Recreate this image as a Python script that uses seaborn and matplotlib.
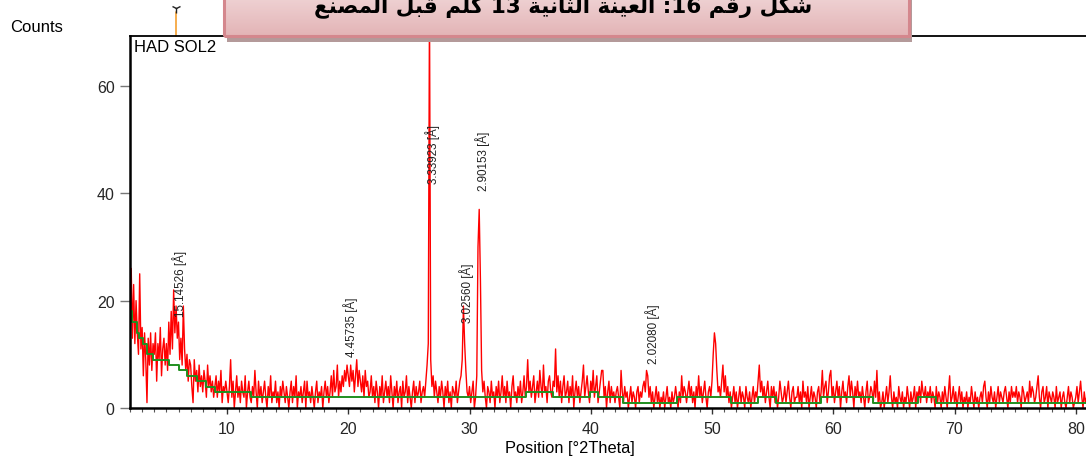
import numpy as np
import matplotlib
matplotlib.use("Agg")
import matplotlib.pyplot as plt
from matplotlib.ticker import MultipleLocator
from matplotlib.patches import Rectangle
from matplotlib.colors import LinearSegmentedColormap
import seaborn as sns

# Scan: 2Theta from 2.0 deg, 0.1 deg step
two_theta_start = 2.0
two_theta_step = 0.1

counts_02_10 = [
    14, 26, 13, 23, 12, 20, 14, 10, 25, 11,
    15, 6, 14, 9, 1, 13, 8, 14, 7, 12,
    10, 14, 5, 12, 9, 15, 6, 11, 13, 8,
    12, 7, 16, 10, 18, 11, 22, 14, 19, 13,
    16, 9, 13, 8, 19, 11, 7, 10, 5, 9,
    8, 4, 1, 9, 5, 7, 3, 8, 4, 6,
    3, 7, 5, 2, 8, 4, 6, 3, 5, 2,
    4, 6, 2, 5, 3, 7, 1, 4, 3, 5,
]
counts_10_20 = [
    3, 1, 4, 9, 2, 5, 0, 3, 6, 2,
    4, 1, 5, 3, 2, 6, 0, 3, 5, 2,
    1, 4, 2, 7, 3, 0, 5, 2, 4, 1,
    3, 5, 2, 0, 4, 2, 6, 1, 3, 2,
    5, 1, 3, 0, 4, 2, 5, 3, 1, 4,
    2, 0, 3, 5, 1, 4, 2, 6, 0, 3,
    2, 4, 1, 3, 5, 0, 5, 2, 3, 1,
    4, 2, 0, 3, 5, 1, 3, 2, 4, 0,
    3, 5, 2, 4, 1, 3, 6, 2, 7, 3,
    4, 8, 2, 5, 3, 6, 4, 7, 5, 8,
]
counts_20_30 = [
    6, 4, 8, 5, 7, 3, 6, 9, 4, 7,
    5, 3, 6, 2, 7, 4, 5, 2, 3, 6,
    2, 4, 1, 5, 3, 0, 4, 2, 6, 1,
    3, 5, 2, 4, 1, 6, 3, 0, 4, 2,
    5, 1, 3, 4, 0, 5, 2, 3, 6, 1,
    4, 2, 0, 3, 5, 1, 4, 2, 3, 5,
    1, 3, 4, 2, 5, 8, 12, 75, 9, 4,
    6, 2, 5, 3, 1, 4, 2, 5, 3, 0,
    4, 2, 5, 1, 3, 0, 4, 3, 2, 5,
    1, 3, 5, 6, 9, 19, 12, 7, 3, 2,
]
counts_30_40 = [
    4, 1, 3, 5, 0, 2, 6, 30, 37, 24,
    7, 3, 5, 2, 0, 4, 3, 1, 5, 2,
    3, 0, 4, 2, 5, 1, 3, 6, 2, 4,
    1, 5, 2, 3, 0, 4, 6, 2, 3, 1,
    4, 2, 5, 1, 3, 6, 2, 4, 9, 3,
    5, 2, 4, 6, 1, 3, 5, 2, 7, 4,
    2, 8, 3, 4, 1, 5, 6, 3, 2, 5,
    4, 11, 3, 6, 2, 5, 1, 4, 6, 2,
    3, 5, 1, 4, 2, 6, 0, 3, 5, 2,
    4, 1, 3, 5, 8, 2, 4, 6, 3, 1,
]
counts_40_50 = [
    5, 3, 7, 2, 4, 6, 1, 3, 5, 7,
    7, 2, 4, 0, 3, 5, 1, 4, 2, 3,
    1, 3, 4, 2, 0, 7, 3, 1, 4, 2,
    3, 0, 2, 4, 1, 3, 2, 0, 3, 4,
    1, 3, 2, 4, 5, 3, 7, 6, 2, 4,
    1, 3, 0, 2, 4, 1, 3, 0, 2, 1,
    3, 0, 2, 4, 1, 2, 0, 3, 1, 2,
    4, 2, 0, 3, 1, 6, 2, 4, 3, 1,
    3, 5, 2, 4, 1, 3, 0, 4, 2, 6,
    2, 4, 1, 3, 5, 2, 0, 3, 4, 2,
]
counts_50_60 = [
    5, 10, 14, 12, 7, 3, 4, 2, 5, 8,
    3, 6, 2, 4, 1, 3, 0, 2, 4, 1,
    3, 0, 2, 4, 1, 3, 2, 0, 4, 2,
    1, 3, 0, 2, 4, 1, 3, 2, 5, 8,
    3, 5, 2, 4, 1, 3, 5, 2, 0, 4,
    2, 4, 1, 3, 0, 2, 5, 3, 1, 2,
    4, 1, 3, 5, 2, 0, 3, 4, 1, 2,
    2, 4, 1, 3, 0, 5, 2, 3, 1, 4,
    0, 2, 4, 1, 3, 2, 0, 3, 4, 1,
    3, 7, 2, 4, 5, 1, 3, 6, 7, 2,
]
counts_60_70 = [
    4, 1, 3, 5, 2, 4, 0, 3, 5, 2,
    3, 1, 4, 6, 2, 5, 3, 0, 4, 2,
    5, 2, 3, 1, 4, 2, 0, 3, 5, 1,
    2, 4, 3, 1, 5, 2, 7, 1, 3, 0,
    1, 3, 0, 2, 4, 1, 3, 6, 2, 0,
    3, 1, 2, 0, 4, 2, 1, 3, 0, 2,
    1, 4, 2, 0, 3, 1, 2, 4, 0, 3,
    2, 4, 1, 5, 3, 2, 4, 1, 3, 2,
    4, 1, 3, 2, 0, 4, 1, 3, 2, 0,
    3, 1, 4, 2, 0, 3, 6, 1, 2, 4,
]
counts_70_82 = [
    1, 3, 0, 2, 4, 1, 3, 0, 2, 1,
    3, 0, 2, 1, 4, 2, 0, 3, 1, 2,
    0, 2, 3, 1, 4, 5, 2, 0, 3, 1,
    4, 2, 1, 3, 0, 2, 4, 1, 3, 2,
    1, 3, 4, 2, 0, 3, 1, 4, 2, 3,
    2, 4, 1, 3, 2, 0, 4, 3, 1, 2,
    3, 1, 5, 2, 4, 3, 1, 2, 4, 6,
    2, 0, 3, 4, 1, 2, 4, 0, 3, 2,
    1, 3, 2, 0, 4, 1, 2, 3, 0, 2,
    3, 1, 0, 2, 4, 1, 3, 2, 0, 1,
    2, 4, 1, 3, 5, 2, 0, 3, 1, 2,
    3, 1, 2, 0, 4, 2, 1, 3, 2, 0,
]

# Fitted background (green step line)
bg_two_theta = [2.0, 2.19, 2.55, 2.77, 3.10, 3.38, 3.87, 5.25, 6.07, 6.73,
                7.50, 8.27, 9.01, 11.95, 34.65, 36.9, 39.9, 40.6, 42.7, 47.1,
                51.6, 53.8, 55.3, 59.0, 63.3, 67.0, 68.5, 82.0]
bg_counts = [18, 16, 14, 13, 12, 10, 9, 8, 7, 6,
             5, 4, 3, 2, 3, 2, 3, 2, 1, 2,
             1, 2, 1, 2, 1, 2, 1, 1]

# Peak list (d-spacing, Angstrom) and height of each label
peak_d = [15.14526, 4.45735, 3.33923, 3.02560, 2.90153, 2.02080]
peak_label_counts = [17.1, 9.6, 42.0, 16.1, 40.6, 8.4]
ref_stick_d = 15.14526
wavelength = 1.5406  # Cu K-alpha1

sample_name = "HAD SOL2"
# "شكل رقم 16: العينة الثانية 13 كلم قبل المصنع" in shaped, visual order
w_masna = "\uFECA\uFEE8\uFEBC\uFEE4\uFEDF\uFE8D"
w_qabl = "\uFEDE\uFE92\uFED7"
w_klm = "\uFEE2\uFEE0\uFEDB"
w_thaniya = "\uFE94\uFEF4\uFEE7\uFE8E\uFE9C\uFEDF\uFE8D"
w_ayna = "\uFE94\uFEE8\uFEF4\uFECC\uFEDF\uFE8D"
w_raqm = "\uFEE2\uFED7\uFEAD"
w_shakl = "\uFEDE\uFEDC\uFEB7"
title_ar = (w_masna + " " + w_qabl + " " + w_klm + " 13 " + w_thaniya + " "
            + w_ayna + " :16 " + w_raqm + " " + w_shakl)


def bragg_two_theta(d):
    return 2 * np.degrees(np.arcsin(wavelength / (2 * np.asarray(d))))


def main():
    sns.set_theme(style="white")
    plt.rcParams["font.family"] = ["Liberation Sans", "DejaVu Sans"]

    counts = np.array(counts_02_10 + counts_10_20 + counts_20_30 + counts_30_40
                      + counts_40_50 + counts_50_60 + counts_60_70 + counts_70_82)
    two_theta = np.round(two_theta_start + two_theta_step * np.arange(len(counts)), 2)

    W, H = 1086, 464
    fig = plt.figure(figsize=(W / 100, H / 100), dpi=100, facecolor="white")
    ax = fig.add_axes([130 / W, 55 / H, 970 / W, 372 / H])

    sns.lineplot(x=two_theta, y=counts, color="#ff0000", lw=1.0,
                 estimator=None, sort=False, ax=ax)
    sns.lineplot(x=bg_two_theta, y=bg_counts, color="#1f8f1f", lw=1.4,
                 drawstyle="steps-post", estimator=None, sort=False, ax=ax)

    ax.set_xlim(2.0, 82.0)
    ax.set_ylim(0, 69.3)
    ax.xaxis.set_major_locator(MultipleLocator(10))
    ax.xaxis.set_minor_locator(MultipleLocator(1))
    ax.yaxis.set_major_locator(MultipleLocator(20))
    ax.tick_params(axis="x", which="major", direction="out", length=4.5, width=1,
                   color="#333333", labelsize=11.5, pad=5, bottom=True)
    ax.tick_params(axis="x", which="minor", direction="out", length=2.8, width=0.8,
                   color="#555555", bottom=True)
    ax.tick_params(axis="y", which="major", direction="out", length=7, width=1,
                   color="#777777", labelsize=11.5, pad=4, left=True)
    ax.set_xlabel("")
    ax.set_ylabel("")

    for side in ["left", "bottom"]:
        ax.spines[side].set_color("black")
        ax.spines[side].set_linewidth(1.8)
    ax.spines["top"].set_color("black")
    ax.spines["top"].set_linewidth(1.3)
    ax.spines["right"].set_visible(False)

    # Peak labels
    peak_tt = bragg_two_theta(peak_d)
    for d, tt, yl in zip(peak_d, peak_tt, peak_label_counts):
        ax.annotate(f"{d:.5f} [Å]", xy=(tt, yl), xytext=(2.2, 0),
                    textcoords="offset points", rotation=90,
                    ha="center", va="bottom", fontsize=8.4, color="#222222",
                    family=["Liberation Sans", "DejaVu Sans"])

    # Reference stick above the frame
    ref_tt = bragg_two_theta(ref_stick_d)
    ax.plot([ref_tt, ref_tt], [69.3, 73.8], color="#f5a030", lw=1.2, clip_on=False)
    ax.plot([ref_tt], [74.6], marker="1", color="#222222", ms=7, mew=1,
            clip_on=False)

    ax.text(0.004, 0.993, sample_name, transform=ax.transAxes, ha="left", va="top",
            fontsize=12, color="black")

    fig.text(10 / W, 1 - 28 / H, "Counts", ha="left", va="center",
             fontsize=12, color="black")
    fig.text(570 / W, 1 - 449 / H, "Position [°2Theta]", ha="center",
             va="center", fontsize=11.8, color="black")

    # Pink caption box with drop shadow
    bx0, bx1, bby = 224, 909, 37
    shadow = Rectangle(((bx0 + 3) / W, 1 - (bby + 6) / H),
                       (bx1 - bx0) / W, (bby + 6) / H + 0.05,
                       transform=fig.transFigure, facecolor="#b49a9a",
                       edgecolor="none", zorder=3)
    fig.patches.append(shadow)

    box_ax = fig.add_axes([bx0 / W, 1 - bby / H, (bx1 - bx0) / W, bby / H + 0.04])
    box_ax.set_zorder(4)
    grad = np.linspace(0, 1, 100).reshape(-1, 1)
    cmap = LinearSegmentedColormap.from_list("pink", ["#e3b4b6", "#f4dfe0"])
    box_ax.imshow(grad, aspect="auto", cmap=cmap, origin="lower",
                  extent=[0, 1, 0, 1])
    box_ax.set_xlim(0, 1)
    box_ax.set_ylim(0, 1)
    box_ax.axis("off")
    box_ax.add_patch(Rectangle((0, 0), 1, 1.2, transform=box_ax.transAxes,
                               fill=False, edgecolor="#d4878d", lw=2.2,
                               clip_on=False))

    fig.text(563 / W, 1 - 12 / H, title_ar, ha="center", va="baseline",
             fontsize=15.5, fontweight="bold", family=["DejaVu Sans"],
             color="black", zorder=10)

    fig.savefig("out.png", dpi=100, facecolor="white")
    plt.close(fig)


if __name__ == "__main__":
    main()
